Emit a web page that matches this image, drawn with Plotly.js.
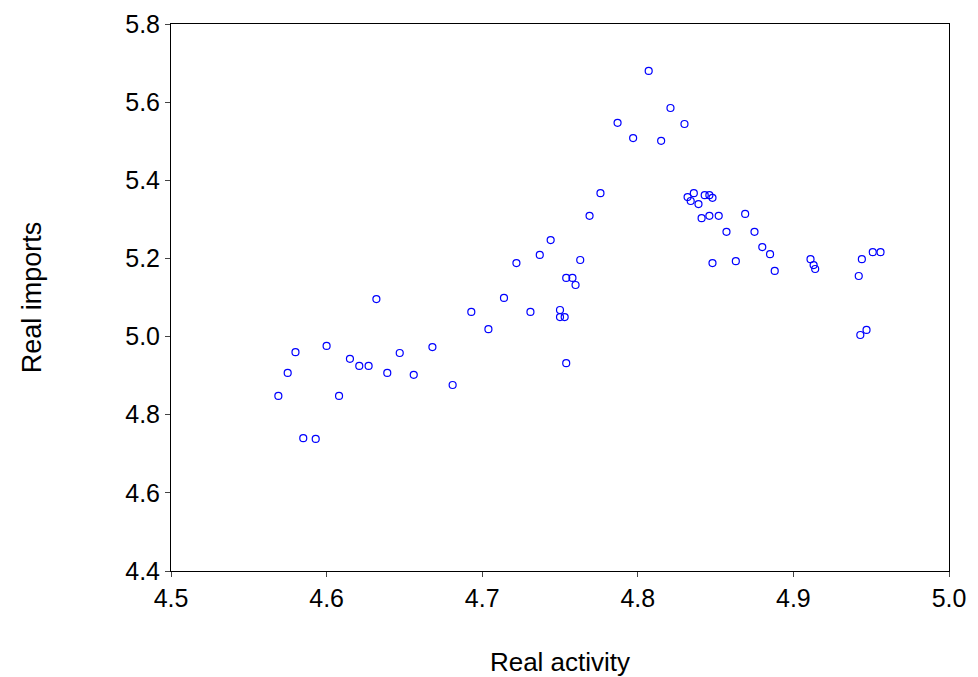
<!DOCTYPE html>
<html><head><script src="https://cdn.plot.ly/plotly-3.0.1.min.js"></script>
<style>body{margin:0}</style></head><body>
<div id="c" style="width:978px;height:677px"></div>
<script>
const activity=[4.569,4.575,4.580,4.585,4.593,4.600,4.608,4.615,4.621,4.627,4.632,4.639,4.647,4.656,4.668,4.681,4.693,4.704,4.714,4.722,4.731,4.737,4.744,4.750,4.750,4.753,4.754,4.754,4.758,4.760,4.763,4.769,4.776,4.787,4.797,4.807,4.815,4.821,4.830,4.832,4.834,4.836,4.839,4.841,4.843,4.846,4.846,4.848,4.848,4.852,4.857,4.863,4.869,4.875,4.880,4.885,4.888,4.911,4.913,4.914,4.942,4.943,4.944,4.947,4.951,4.956];
const imports=[4.848,4.907,4.960,4.740,4.738,4.976,4.848,4.943,4.925,4.925,5.096,4.907,4.958,4.902,4.973,4.876,5.063,5.019,5.099,5.188,5.063,5.209,5.247,5.068,5.050,5.050,4.932,5.150,5.150,5.132,5.196,5.309,5.367,5.547,5.508,5.680,5.501,5.585,5.544,5.357,5.347,5.367,5.339,5.303,5.362,5.362,5.309,5.355,5.188,5.309,5.268,5.193,5.314,5.268,5.229,5.211,5.168,5.198,5.183,5.173,5.155,5.004,5.198,5.017,5.216,5.216];
const xticks=[4.5,4.6,4.7,4.8,4.9,5.0], xlabels=['4.5','4.6','4.7','4.8','4.9','5.0'];
const yticks=[4.4,4.6,4.8,5.0,5.2,5.4,5.6,5.8], ylabels=['4.4','4.6','4.8','5.0','5.2','5.4','5.6','5.8'];
Plotly.newPlot('c',[{x:activity,y:imports,mode:'markers',type:'scatter',
marker:{symbol:'circle-open',size:7,color:'#0000ff',line:{width:1.2}}}],
{width:978,height:677,margin:{l:171,r:29,t:24,b:106},paper_bgcolor:'#fff',plot_bgcolor:'#fff',
font:{family:'Liberation Sans, Arial',size:25,color:'#000'},showlegend:false,
xaxis:{range:[4.5,5.0],tickvals:xticks,ticktext:xlabels,ticks:'outside',ticklen:5,showgrid:false,zeroline:false,
 showline:true,mirror:true,linecolor:'#000',title:{text:'Real activity',font:{size:26},standoff:45}},
yaxis:{range:[4.4,5.8],tickvals:yticks,ticktext:ylabels,ticks:'outside',ticklen:5,showgrid:false,zeroline:false,
 showline:true,mirror:true,linecolor:'#000',title:{text:'Real imports',font:{size:27,family:'Liberation Sans Narrow, Liberation Sans'},standoff:75}}},
{displayModeBar:false});
</script></body></html>
